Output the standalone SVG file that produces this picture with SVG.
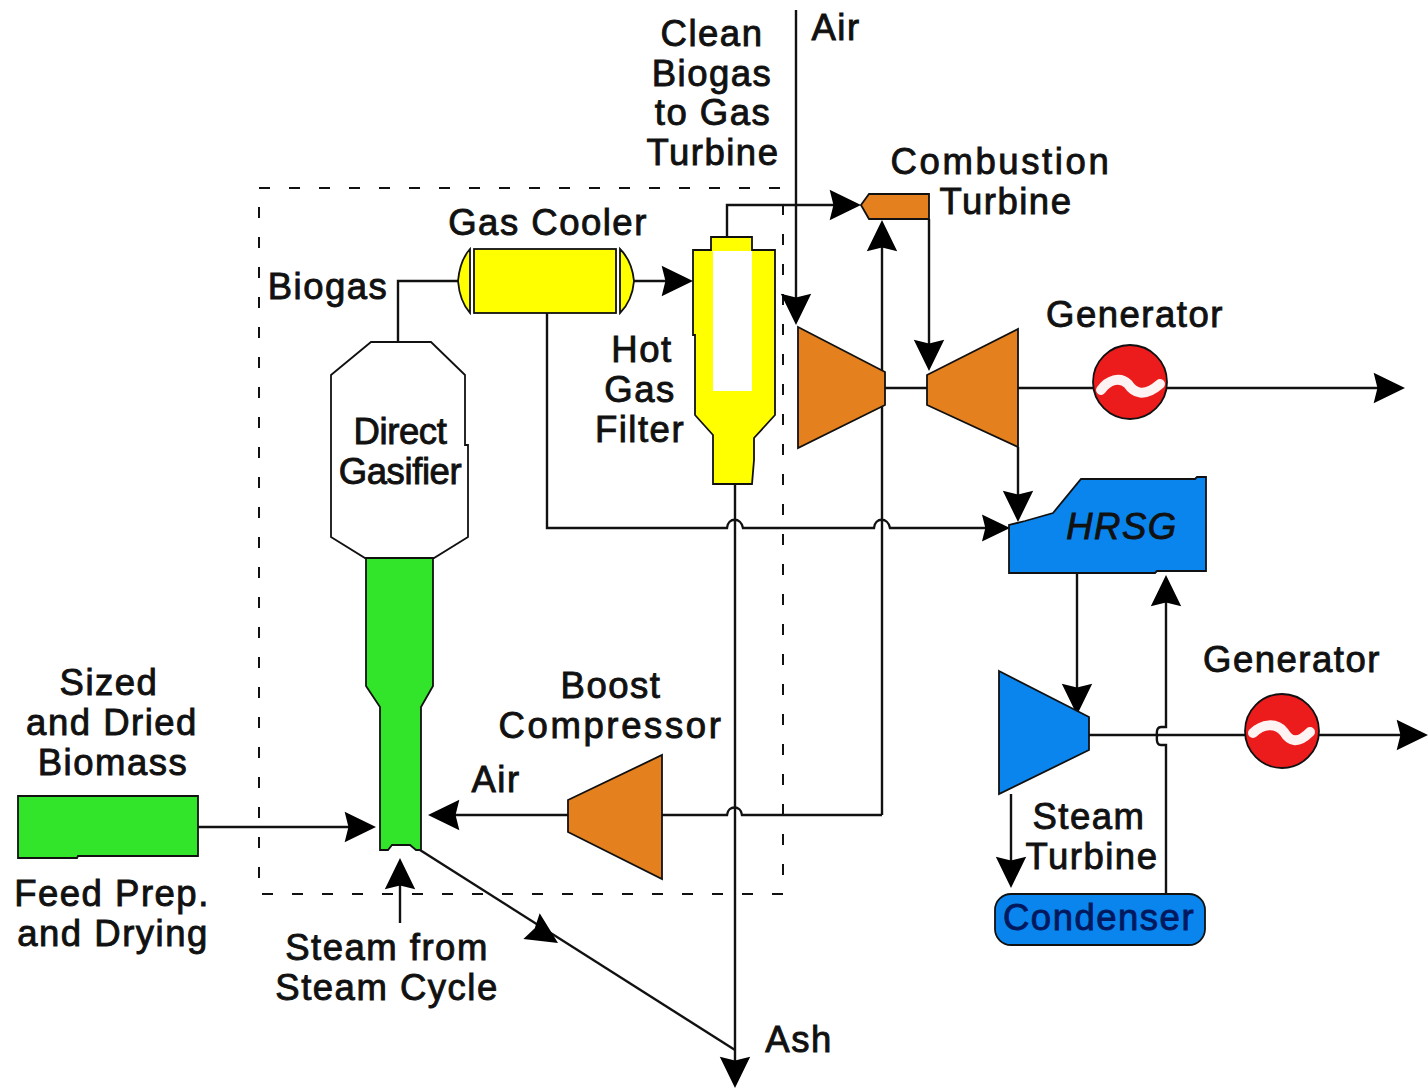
<svg xmlns="http://www.w3.org/2000/svg" width="1428" height="1090" viewBox="0 0 1428 1090">
<style>
text{font-family:"Liberation Sans",Arial,sans-serif;font-size:36.5px;fill:#111;text-anchor:middle;letter-spacing:1.5px;stroke:#111;stroke-width:.9px}
.n{stroke:#111;stroke-width:1.8;stroke-linejoin:miter}
.c path{fill:none;stroke:#111;stroke-width:2.4}
.o{fill:#e5801f}.y{fill:#ffff00}.g{fill:#33e52a}.b{fill:#0a85ee}.r{fill:#ec1c1c}
.w{fill:none;stroke:#fff;stroke-width:10;stroke-linecap:round;stroke-linejoin:round;opacity:.95}
.wide{letter-spacing:2.6px}
.tight{letter-spacing:-.4px}
</style>
<defs>
<path id="ah" d="M0 0L-33 -16L-29 0L-33 16Z" fill="#000"/>
</defs>
<rect width="1428" height="1090" fill="#fff"/>
<rect id="boundary" x="259" y="188" width="524" height="706" fill="none" stroke="#111" stroke-width="2" stroke-dasharray="11 19"/>
<g id="connectors" class="c">
<path d="M398 342V281H458"/>
<path d="M634 281H675"/>
<path d="M727 237V205H843"/>
<path d="M796 10V307"/>
<path d="M885 388H927"/>
<path d="M882 815V238"/>
<path d="M662 815H727C728 805 741 805 742 815H882"/>
<path d="M568 815H445"/>
<path d="M929 219V353"/>
<path d="M1018 388H1387"/>
<path d="M1018 447V504"/>
<path d="M547 313V528H727C728 517 741 517 743 528H874C875 517 888 517 890 528H992"/>
<path d="M735 484V1070"/>
<path d="M420 850L735 1050"/>
<path d="M1077 573V697"/>
<path d="M1089 735H1410"/>
<path d="M1166 894V745H1161Q1156 745 1157 736Q1156 727 1161 727H1166V592"/>
<path d="M1011 794V870"/>
<path d="M198 827H358"/>
<path d="M400 923V875"/>
<use href="#ah" transform="translate(693 281) scale(.95)"/>
<use href="#ah" transform="translate(861 205) scale(.95)"/>
<use href="#ah" transform="translate(796 325) rotate(90) scale(.95)"/>
<use href="#ah" transform="translate(882 220) rotate(-90) scale(.95)"/>
<use href="#ah" transform="translate(428 815) rotate(180) scale(.95)"/>
<use href="#ah" transform="translate(929 371) rotate(90) scale(.95)"/>
<use href="#ah" transform="translate(1405 388) scale(.95)"/>
<use href="#ah" transform="translate(1018 522) rotate(90) scale(.95)"/>
<use href="#ah" transform="translate(1010 528) scale(.85)"/>
<use href="#ah" transform="translate(735 1088) rotate(90) scale(.95)"/>
<use href="#ah" transform="translate(558 943) rotate(32.4) scale(.95)"/>
<use href="#ah" transform="translate(1077 715) rotate(90) scale(.95)"/>
<use href="#ah" transform="translate(1428 735) scale(.95)"/>
<use href="#ah" transform="translate(1166 575) rotate(-90) scale(.95)"/>
<use href="#ah" transform="translate(1011 888) rotate(90) scale(.95)"/>
<use href="#ah" transform="translate(376 827) scale(.95)"/>
<use href="#ah" transform="translate(400 858) rotate(-90) scale(.95)"/>
</g>
<g id="gasifier">
<path class="n" fill="#fff" d="M371 342H431L465 375V445L468 445V537L434 558H365L331 537V375Z"/>
<path class="n g" d="M366 558H433V686L421 707V850H416L410 845H392L388 850H380V707L366 686Z"/>
</g>
<g id="gas-cooler">
<rect class="n y" x="474" y="249" width="142" height="64"/>
<path class="n y" d="M470 249C462 258 459 270 458 281C459 293 462 304 470 313Z"/>
<path class="n y" d="M620 249C629 258 633 270 634 281C633 293 629 304 620 313Z"/>
</g>
<g id="hot-gas-filter">
<path class="n y" d="M711 250V237H752V250H775V415L754 438V460L752 484H713V435L695 415V335L693 335V250Z"/>
<rect x="713" y="251" width="39" height="140" fill="#fff"/>
</g>
<g id="combustor"><path class="n o" d="M861 205L869 194H929V219H869Z"/></g>
<g id="compressor"><path class="n o" d="M798 327L885 372V405L798 448Z"/></g>
<g id="gas-turbine"><path class="n o" d="M927 375L1018 329V447L927 405Z"/></g>
<g id="generator-1">
<circle class="n r" cx="1130" cy="382" r="37"/>
<path class="w" d="M1101 390C1108 380 1120 376 1128 384C1134 393 1144 398 1160 384"/>
</g>
<g id="generator-2">
<circle class="n r" cx="1282" cy="731" r="37"/>
<path class="w" d="M1253 733C1262 724 1276 722 1284 732C1290 742 1298 744 1310 732"/>
</g>
<g id="hrsg"><path class="n b" d="M1009 525V573H1155L1157 571H1206V477H1197L1195 479H1081L1053 513L1025 521Z"/></g>
<g id="steam-turbine"><path class="n b" d="M999 671L1089 717V750L999 794Z"/></g>
<g id="condenser"><rect class="n b" x="995" y="894" width="210" height="51" rx="16"/></g>
<g id="feed-prep"><path class="n g" d="M18 796H198V856H78L77 858H18Z"/></g>
<g id="boost-compressor"><path class="n o" d="M662 755V879L568 832V800Z"/></g>
<g id="labels">
<text x="712" y="46">Clean</text><text x="712" y="86">Biogas</text><text x="713" y="125">to Gas</text><text x="713" y="165">Turbine</text>
<text x="836" y="40">Air</text>
<text x="1001" y="174" class="wide">Combustion</text><text x="1006" y="214">Turbine</text>
<text x="548" y="235">Gas Cooler</text>
<text x="328" y="299">Biogas</text>
<text x="642" y="362">Hot</text><text x="640" y="402">Gas</text><text x="640" y="442">Filter</text>
<text x="400" y="444" class="tight">Direct</text><text x="400" y="484" class="tight">Gasifier</text>
<text x="1135" y="327">Generator</text><text x="1292" y="672">Generator</text>
<text x="1122" y="539" font-style="italic">HRSG</text>
<text x="109" y="695">Sized</text><text x="112" y="735">and Dried</text><text x="113" y="775">Biomass</text>
<text x="611" y="698">Boost</text><text x="611" y="738" class="wide">Compressor</text>
<text x="496" y="792">Air</text>
<text x="1089" y="829">Steam</text><text x="1092" y="869">Turbine</text>
<text x="1099" y="930" style="fill:#00195e;stroke:#00195e">Condenser</text>
<text x="112" y="906">Feed Prep.</text><text x="113" y="946">and Drying</text>
<text x="387" y="960">Steam from</text><text x="387" y="1000">Steam Cycle</text>
<text x="799" y="1052">Ash</text>
</g>
</svg>
